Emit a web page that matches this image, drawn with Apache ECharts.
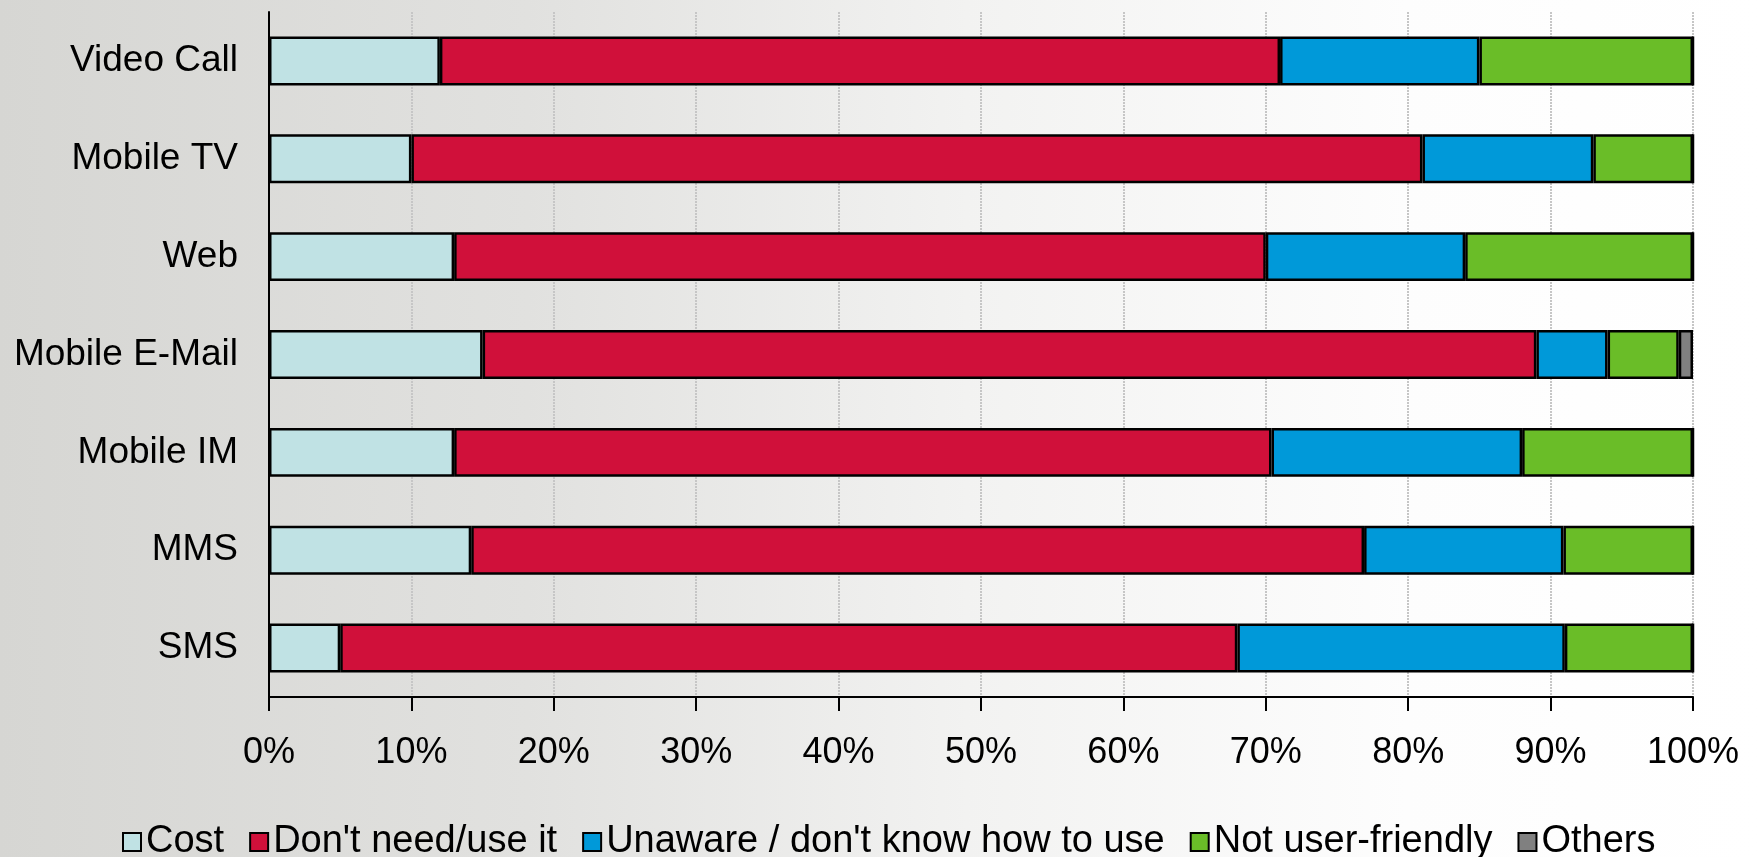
<!DOCTYPE html>
<html>
<head>
<meta charset="utf-8">
<title>Reasons for not using mobile services</title>
<script src="https://cdn.jsdelivr.net/npm/echarts@6/dist/echarts.min.js"></script>
<style>
  html, body {
    margin: 0;
    padding: 0;
    width: 1758px;
    height: 857px;
    overflow: hidden;
    background: linear-gradient(to right, #d6d6d3 0%, #e1e1df 30%, #f2f2f1 55%, #fdfdfd 80%, #ffffff 100%);
  }
  #main { width: 1758px; height: 857px; }
</style>
</head>
<body>
<div id="main"></div>
<script>
  // categories, top to bottom
  var categories = ['Video Call', 'Mobile TV', 'Web', 'Mobile E-Mail', 'Mobile IM', 'MMS', 'SMS'];

  // shares in %, one value per category
  var cost        = [12, 10, 13, 15, 13, 14.2, 5];
  var dontNeed    = [59, 71, 57, 74, 57.4, 62.7, 63];
  var unaware     = [14, 12, 14, 5, 17.6, 14, 23];
  var notFriendly = [15, 7, 16, 5, 12, 9.1, 9];
  var others      = [0, 0, 0, 1, 0, 0, 0];

  var xTicks = [0, 10, 20, 30, 40, 50, 60, 70, 80, 90, 100];

  var font = '"Liberation Sans", Arial, sans-serif';

  function bar(name, data, color) {
    return {
      name: name,
      type: 'bar',
      stack: 'total',
      barWidth: '50%',
      data: data,
      itemStyle: {color: color, borderColor: '#000', borderWidth: 2.5},
      emphasis: {disabled: true}
    };
  }

  var chart = echarts.init(document.getElementById('main'));
  var option = {
    animation: false,
    backgroundColor: 'transparent',
    grid: {
      left: 269,
      right: 65,
      top: 12,
      bottom: 160,
      outerBoundsMode: 'none'
    },
    legend: {
      left: 117,
      top: 818,
      itemWidth: 18,
      itemHeight: 18,
      itemGap: 25,
      icon: 'rect',
      itemStyle: {borderColor: '#000', borderWidth: 2},
      textStyle: {fontSize: 38, color: '#000', fontFamily: font, padding: [0, 0, 0, 0]},
      data: ['Cost', "Don't need/use it", 'Unaware / don\'t know how to use', 'Not user-friendly', 'Others']
    },
    xAxis: {
      type: 'value',
      min: xTicks[0],
      max: xTicks[xTicks.length - 1],
      interval: 10,
      axisLine: {show: true, lineStyle: {color: '#000', width: 2}},
      axisTick: {show: true, length: 14, lineStyle: {color: '#000', width: 2}},
      axisLabel: {
        margin: 38,
        fontSize: 36,
        color: '#000',
        fontFamily: font,
        formatter: function (v) { return v + '%'; }
      },
      splitLine: {show: true, lineStyle: {color: '#c6c6c6', width: 2, type: [2, 1]}}
    },
    yAxis: {
      type: 'category',
      inverse: true,
      data: categories,
      axisLine: {show: true, lineStyle: {color: '#000', width: 2}},
      axisTick: {show: false},
      axisLabel: {margin: 31, fontSize: 37, color: '#000', fontFamily: font}
    },
    series: [
      bar('Cost', cost, '#c0e2e4'),
      bar("Don't need/use it", dontNeed, '#d0103a'),
      bar('Unaware / don\'t know how to use', unaware, '#0099d9'),
      bar('Not user-friendly', notFriendly, '#6abd28'),
      bar('Others', others, '#808080')
    ]
  };
  chart.setOption(option);
</script>
</body>
</html>
